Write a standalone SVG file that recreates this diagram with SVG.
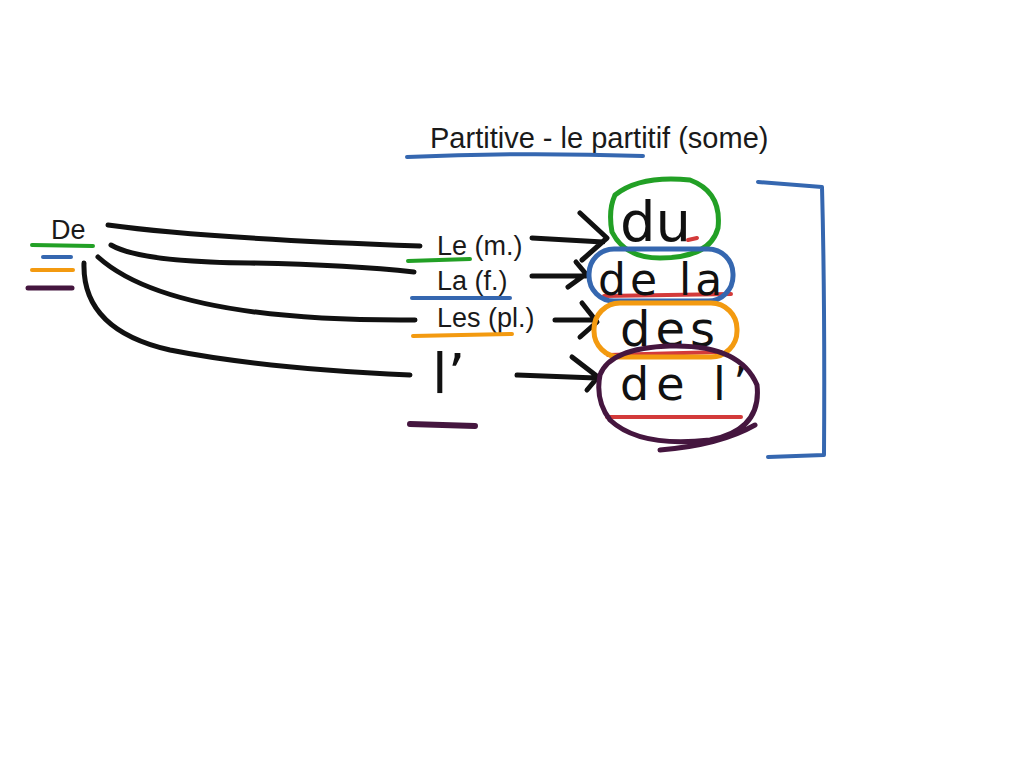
<svg xmlns="http://www.w3.org/2000/svg" width="1024" height="768" viewBox="0 0 1024 768">
<style>
.lbl{font-family:"Liberation Sans",Arial,sans-serif;font-size:27px;fill:#1a1a1a}
.ttl{font-size:29px}
.hw{font-family:"DejaVu Sans","Liberation Sans",sans-serif;fill:#111}
.blk{fill:none;stroke:#111;stroke-width:5;stroke-linecap:round;stroke-linejoin:round}
.ln{fill:none;stroke-linecap:round;stroke-linejoin:round}
.g{stroke:#22a025}.b{stroke:#3567b0}.o{stroke:#f39a10}.p{stroke:#45163f}.r{stroke:#d33a3a}
</style>
<rect width="1024" height="768" fill="#fff"/>
<g id="title">
<text class="lbl ttl" x="430" y="148">Partitive - le partitif (some)</text>
<path class="ln b" stroke-width="4" d="M407,157 Q520,152 643,156"/>
</g>
<g id="de">
<text class="lbl" x="51" y="239">De</text>
<path class="ln g" stroke-width="4" d="M32,245 L93,246"/>
<path class="ln b" stroke-width="4" d="M43,257 L71,257"/>
<path class="ln o" stroke-width="4" d="M32,270 L73,270"/>
<path class="ln p" stroke-width="5" d="M28,288 L72,288"/>
</g>
<g id="connectors">
<path class="blk" d="M108,225 Q200,238 420,246"/>
<path class="blk" d="M111,245 Q140,262 250,263 Q350,265 414,272"/>
<path class="blk" d="M98,257 Q170,322 415,320"/>
<path class="blk" d="M84,263 Q82,330 170,350 Q260,368 410,375"/>
<path class="blk" d="M532,238 L603,242 M580,213 L607,238 L582,260"/>
<path class="blk" d="M532,276 L586,276 M576,262 L586,274 L568,287"/>
<path class="blk" d="M555,320 L593,320 M582,303 L597,322 L580,337"/>
<path class="blk" d="M517,375 L596,378 M572,357 L598,377 L587,390"/>
</g>
<g id="le">
<text class="lbl" x="437" y="255">Le (m.)</text>
<path class="ln g" stroke-width="4" d="M408,261 L470,259"/>
</g>
<g id="la">
<text class="lbl" x="437" y="290">La (f.)</text>
<path class="ln b" stroke-width="4" d="M412,298 L510,298"/>
</g>
<g id="les">
<text class="lbl" x="437" y="327">Les (pl.)</text>
<path class="ln o" stroke-width="4" d="M413,336 L512,334"/>
</g>
<g id="l-apos">
<text class="hw" x="432" y="393" font-size="56">l’</text>
<path class="ln p" stroke-width="6" d="M410,424 L475,426"/>
</g>
<g id="du">
<path class="ln r" stroke-width="4" d="M688,240 L697,238"/>
<text class="hw" x="620" y="241" font-size="56">du</text>
<path class="ln g" stroke-width="5" d="M615,195 Q640,175 690,180 Q722,192 718,228 Q710,258 660,258 Q625,258 612,232 Q608,210 615,195"/>
</g>
<g id="dela">
<path class="ln r" stroke-width="4" d="M604,296 L731,294"/>
<text class="hw" x="598" y="295" font-size="44" letter-spacing="4">de la</text>
<rect class="ln b" stroke-width="5" x="589" y="249" width="144" height="52" rx="25"/>
</g>
<g id="des">
<path class="ln r" stroke-width="4" d="M608,355 L721,352"/>
<text class="hw" x="620" y="346" font-size="48" letter-spacing="5">des</text>
<rect class="ln o" stroke-width="5" x="594" y="303" width="143" height="54" rx="26"/>
</g>
<g id="del">
<path class="ln r" stroke-width="4" d="M607,417 L741,417"/>
<text class="hw" x="620" y="400" font-size="46" letter-spacing="7">de l’</text>
<path class="ln p" stroke-width="5" d="M600,375 Q610,348 670,346 Q740,344 757,385 Q762,430 710,440 Q640,448 610,420 Q595,400 600,375 M755,425 Q720,445 660,450"/>
</g>
<g id="bracket">
<path class="ln b" stroke-width="4" d="M758,182 L822,187 Q825,300 824,455 L768,457"/>
</g>
</svg>
